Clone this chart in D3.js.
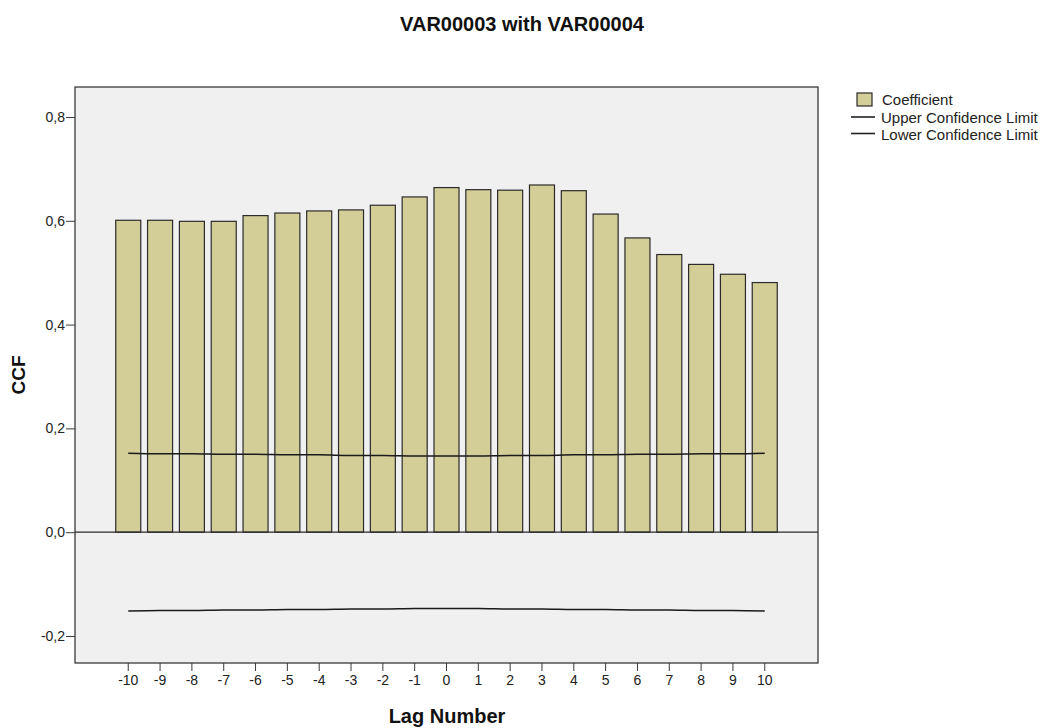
<!DOCTYPE html>
<meta charset="utf-8">
<script src="https://d3js.org/d3.v7.js"></script>
<style>
  body { margin: 0; background: #fff; }
  text { font-family: Arial, "Liberation Sans", sans-serif; }
</style>
<div id="chart"></div>
<script>
// lags and values
var lags = [-10, -9, -8, -7, -6, -5, -4, -3, -2, -1, 0, 1, 2, 3, 4, 5, 6, 7, 8, 9, 10];
var coefficient = [0.601, 0.601, 0.599, 0.599, 0.610, 0.615, 0.619, 0.621, 0.630, 0.646, 0.664,
                   0.660, 0.659, 0.669, 0.658, 0.613, 0.567, 0.535, 0.516, 0.497, 0.481];
var upperLimit = [0.152, 0.151, 0.151, 0.150, 0.150, 0.149, 0.149, 0.148, 0.148, 0.147, 0.147,
                  0.147, 0.148, 0.148, 0.149, 0.149, 0.150, 0.150, 0.151, 0.151, 0.152];
var lowerLimit = upperLimit.map(function (d) { return -d; });
var yTicks = [-0.2, 0, 0.2, 0.4, 0.6, 0.8];

var width = 1048, height = 728;
var plot = {left: 75, right: 818, top: 87, bottom: 663};

var svg = d3.select("#chart").append("svg")
    .attr("width", width)
    .attr("height", height);

var x = d3.scaleBand()
    .domain(lags)
    .range([plot.left, plot.right])
    .paddingInner(0.214)
    .paddingOuter(1.28);

var y = d3.scaleLinear()
    .domain([-0.2, 0.8])
    .range([636, 117]);

// plot background
svg.append("rect")
    .attr("x", plot.left)
    .attr("y", plot.top)
    .attr("width", plot.right - plot.left)
    .attr("height", plot.bottom - plot.top)
    .attr("fill", "#f0f0f0")
    .attr("stroke", "#3a3a3a")
    .attr("stroke-width", 1.3);

// bars
svg.selectAll(".bar")
    .data(lags)
    .enter()
    .append("rect")
    .attr("class", "bar")
    .attr("x", function (d) { return x(d); })
    .attr("width", x.bandwidth())
    .attr("y", function (d, i) { return y(coefficient[i]); })
    .attr("height", function (d, i) { return y(0) - y(coefficient[i]); })
    .attr("fill", "#d3ce98")
    .attr("stroke", "#2b2b2b")
    .attr("stroke-width", 1.2);

// zero line
svg.append("line")
    .attr("x1", plot.left)
    .attr("x2", plot.right)
    .attr("y1", y(0))
    .attr("y2", y(0))
    .attr("stroke", "#2b2b2b")
    .attr("stroke-width", 1.3);

// confidence limits
var line = d3.line()
    .x(function (d) { return x(d[0]) + x.bandwidth() / 2; })
    .y(function (d) { return y(d[1]); })
    .curve(d3.curveMonotoneX);

[upperLimit, lowerLimit].forEach(function (lim) {
    svg.append("path")
        .datum(lags.map(function (l, i) { return [l, lim[i]]; }))
        .attr("d", line)
        .attr("fill", "none")
        .attr("stroke", "#1a1a1a")
        .attr("stroke-width", 1.5);
});

// y axis
var yAxis = svg.append("g")
    .attr("transform", "translate(" + plot.left + ",0)")
    .call(d3.axisLeft(y)
        .tickValues(yTicks)
        .tickSize(9)
        .tickPadding(1)
        .tickFormat(function (d) { return d3.format(".1f")(d).replace(".", ",").replace("−", "-"); }));
yAxis.select(".domain").remove();
yAxis.selectAll("line").attr("stroke", "#3a3a3a");
yAxis.selectAll("text").attr("font-size", 14).attr("fill", "#222")
    .style("font-family", "Arial, 'Liberation Sans', sans-serif");

// x axis
var xAxis = svg.append("g")
    .attr("transform", "translate(0," + plot.bottom + ")")
    .call(d3.axisBottom(x).tickSize(8).tickPadding(4));
xAxis.select(".domain").remove();
xAxis.selectAll("line").attr("stroke", "#3a3a3a");
xAxis.selectAll("text").attr("font-size", 14).attr("fill", "#222")
    .style("font-family", "Arial, 'Liberation Sans', sans-serif")
    .text(function (d) { return String(d); });

// titles
svg.append("text")
    .attr("x", 522)
    .attr("y", 31)
    .attr("text-anchor", "middle")
    .attr("font-size", 20)
    .attr("font-weight", "bold")
    .attr("fill", "#111")
    .text("VAR00003 with VAR00004");

svg.append("text")
    .attr("transform", "translate(25,375) rotate(-90)")
    .attr("text-anchor", "middle")
    .attr("font-size", 19)
    .attr("font-weight", "bold")
    .attr("fill", "#111")
    .text("CCF");

svg.append("text")
    .attr("x", 447)
    .attr("y", 723)
    .attr("text-anchor", "middle")
    .attr("font-size", 20)
    .attr("font-weight", "bold")
    .attr("fill", "#111")
    .text("Lag Number");

// legend
var legend = svg.append("g");
legend.append("rect")
    .attr("x", 857)
    .attr("y", 93)
    .attr("width", 15)
    .attr("height", 13)
    .attr("fill", "#d3ce98")
    .attr("stroke", "#2b2b2b")
    .attr("stroke-width", 1.2);
legend.append("text")
    .attr("x", 882).attr("y", 105)
    .attr("font-size", 15).attr("fill", "#222")
    .text("Coefficient");
["Upper Confidence Limit", "Lower Confidence Limit"].forEach(function (label, i) {
    var ly = 117 + i * 16.5;
    legend.append("line")
        .attr("x1", 851).attr("x2", 875)
        .attr("y1", ly).attr("y2", ly)
        .attr("stroke", "#222").attr("stroke-width", 1.6);
    legend.append("text")
        .attr("x", 881).attr("y", ly + 6)
        .attr("font-size", 15).attr("fill", "#222")
        .text(label);
});
</script>
